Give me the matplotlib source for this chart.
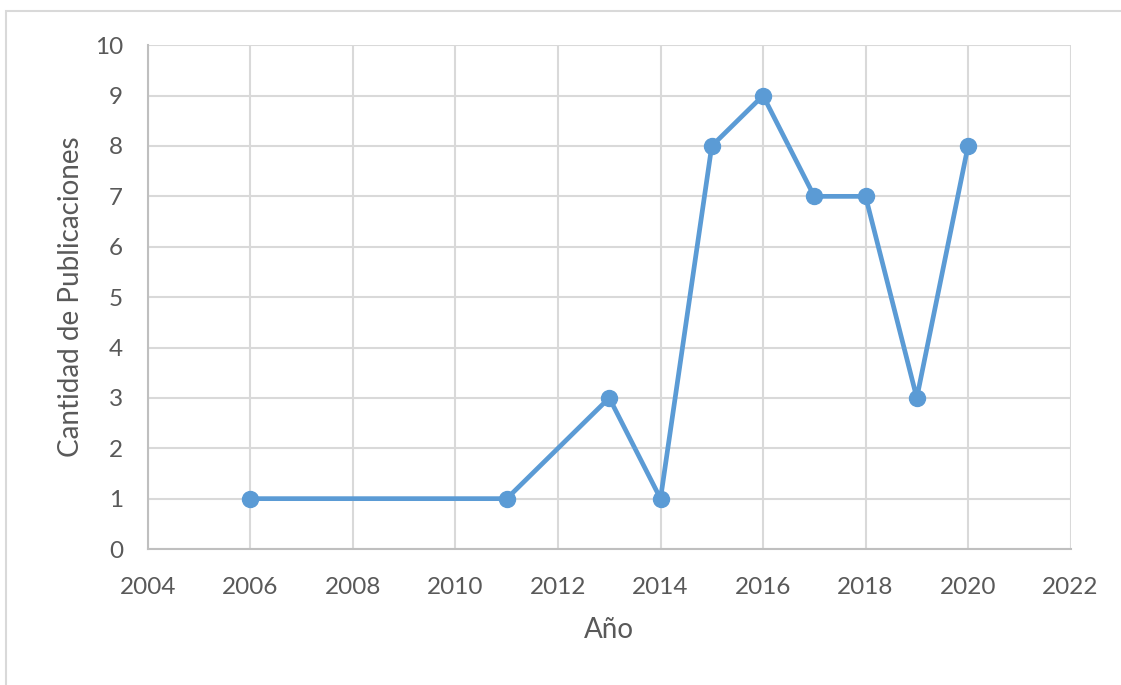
import matplotlib.pyplot as plt
from matplotlib.patches import Rectangle

# publicaciones por año
years = [2006, 2011, 2013, 2014, 2015, 2016, 2017, 2018, 2019, 2020]
counts = [1, 1, 3, 1, 8, 9, 7, 7, 3, 8]

plt.rcParams['font.family'] = ['Lato', 'DejaVu Sans']

fig = plt.figure(figsize=(11.21, 6.85), dpi=100)
ax = fig.add_axes([0.132, 0.1985, 0.823, 0.7355])

# borde exterior del grafico
fig.patches.append(Rectangle((6 / 1121, -0.01), 1.02, 1 - 11 / 685 + 0.01,
                             transform=fig.transFigure, fill=False,
                             edgecolor='#d9d9d9', linewidth=1.5))

ax.plot(years, counts, color='#5b9bd5', linewidth=3.4, marker='o',
        markersize=11.5, zorder=3)

ax.set_xlim(2004, 2022)
ax.set_ylim(0, 10)
ax.set_xticks(range(2004, 2023, 2))
ax.set_yticks(range(0, 11))
ax.grid(True, color='#d9d9d9', linewidth=1.5)
ax.set_axisbelow(True)

for s in ['top', 'right']:
    ax.spines[s].set_visible(False)
for s in ['left', 'bottom']:
    ax.spines[s].set_color('#bfbfbf')
    ax.spines[s].set_linewidth(1.5)

ax.tick_params(length=0, labelsize=17.5, labelcolor='#595959')
ax.tick_params(axis='x', pad=20)
ax.tick_params(axis='y', pad=18)
ax.set_xlabel('Año', fontsize=20, color='#595959', labelpad=14)
ax.set_ylabel('Cantidad de Publicaciones', fontsize=20, color='#595959', labelpad=8)

fig.savefig('out.png', dpi=100)
